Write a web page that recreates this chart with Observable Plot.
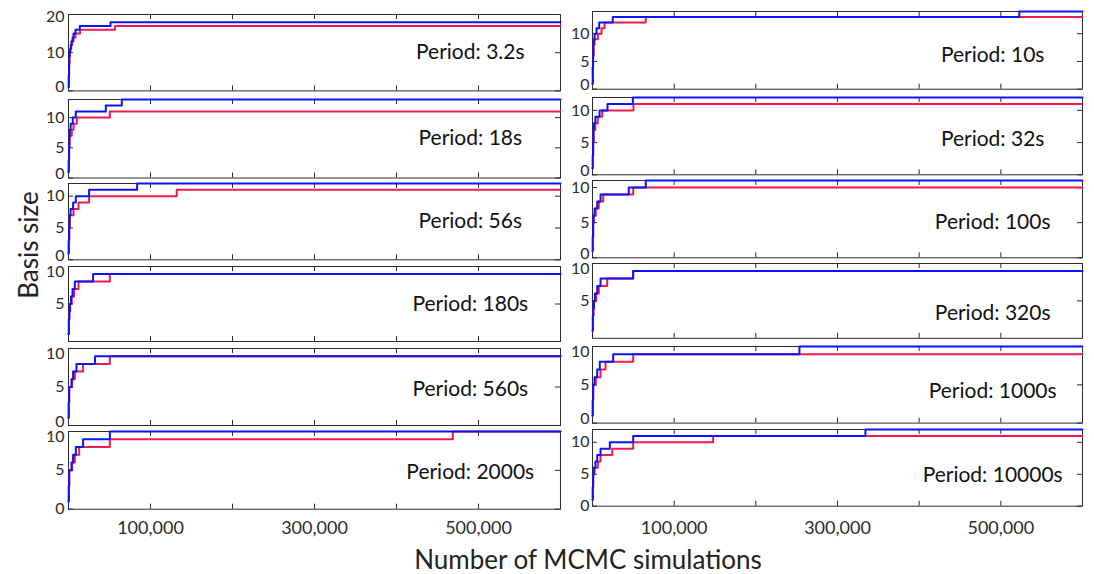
<!DOCTYPE html>
<html>
<head>
<meta charset="utf-8">
<script src="https://cdn.jsdelivr.net/npm/d3@7"></script>
<script src="https://cdn.jsdelivr.net/npm/@observablehq/plot@0.6"></script>
<style>
  body { margin: 0; background: #fff; }
  #chart { position: relative; width: 1094px; height: 574px; font-family: Lato, "Open Sans", sans-serif; color: #262626; }
  #chart svg { position: absolute; overflow: visible; }
  .axis-title { position: absolute; font-size: 26px; color: #222; white-space: nowrap; line-height: 1; }
</style>
</head>
<body>
<div id="chart"></div>
<script>
// Panels in reading order: left column, right column, row by row
const periods = ["3.2s", "10s", "18s", "32s", "56s", "100s", "180s", "320s", "560s", "1000s", "2000s", "10000s"];

// Basis size after N MCMC simulations, as [simulations, basis size] change points
const redSeries = [
  [[0,1],[400,4],[800,7],[1200,9],[1700,10],[2400,11],[3300,12],[4500,13],[6100,14],[8500,15],[14100,16],[56800,17],[600000,17]],
  [[0,1],[400,4],[800,6],[1300,8],[2500,9],[6500,10],[11000,11],[14700,12],[65200,13],[600000,13]],
  [[0,1],[400,3],[800,5],[1300,7],[4000,8],[6100,9],[10100,10],[50400,11],[600000,11]],
  [[0,1],[400,3],[900,5],[1400,7],[3500,8],[6500,9],[11900,10],[50200,11],[600000,11]],
  [[0,1],[400,3],[900,5],[1500,7],[6100,8],[12200,9],[25100,10],[132000,11],[600000,11]],
  [[0,1],[400,3],[900,5],[1500,6],[4000,7],[7700,8],[13100,9],[49800,10],[600000,10]],
  [[0,1],[500,3],[1100,4],[2000,5],[4000,6],[6800,7],[12200,8],[50400,9],[600000,9]],
  [[0,1],[500,3],[1100,4],[2000,5],[4500,6],[7700,7],[18000,8],[49800,9],[600000,9]],
  [[0,1],[400,3],[900,5],[4500,6],[7700,7],[17800,8],[50400,9],[600000,9]],
  [[0,1],[400,3],[900,5],[4000,6],[9800,7],[15900,8],[49800,9],[600000,9]],
  [[0,1],[400,3],[900,5],[4500,6],[7700,7],[13000,8],[50400,9],[468700,10],[600000,10]],
  [[0,1],[400,3],[900,5],[2500,6],[6500,7],[9800,8],[24100,9],[49800,10],[147700,11],[600000,11]]
];

const blueSeries = [
  [[0,1],[300,4],[600,7],[900,9],[1300,10],[1900,11],[2700,12],[3600,13],[4900,14],[6100,15],[8500,16],[13800,17],[51200,18],[600000,18]],
  [[0,1],[300,4],[600,6],[1000,8],[1500,9],[2500,10],[4900,11],[8200,12],[24800,13],[522600,14],[600000,14]],
  [[0,1],[300,3],[600,5],[1000,7],[1600,8],[2600,9],[5200,10],[8900,11],[45500,12],[65000,13],[600000,13]],
  [[0,1],[300,3],[700,5],[1100,7],[1700,8],[3500,9],[8600,10],[18400,11],[49400,12],[600000,12]],
  [[0,1],[300,3],[700,5],[1200,7],[2500,8],[5600,9],[8900,10],[25100,11],[83700,12],[600000,12]],
  [[0,1],[300,3],[700,5],[1200,6],[2500,7],[5800,8],[9800,9],[44400,10],[65200,11],[600000,11]],
  [[0,1],[400,3],[900,4],[1600,5],[3000,6],[4900,7],[7700,8],[30000,9],[600000,9]],
  [[0,1],[400,3],[900,4],[1600,5],[3000,6],[5800,7],[9800,8],[49800,9],[600000,9]],
  [[0,1],[300,3],[700,5],[3600,6],[5600,7],[9700,8],[32400,9],[600000,9]],
  [[0,1],[300,3],[700,5],[2500,6],[5800,7],[8900,8],[25300,9],[253400,10],[600000,10]],
  [[0,1],[300,3],[700,5],[3600,6],[5600,7],[8900,8],[17800,9],[50400,10],[600000,10]],
  [[0,1],[300,3],[700,5],[1500,6],[3500,7],[5800,8],[9800,9],[21200,10],[49800,11],[334200,12],[600000,12]]
];

// Upper y limit and labelled y ticks of each panel
const yMax = [20, 14, 13, 12, 12, 11, 10, 10, 10, 10, 10, 12];
const yTicks = [[0,10,20],[0,5,10],[0,5,10],[0,5,10],[0,5,10],[0,5,10],[5,10],[5,10],[0,5,10],[0,5,10],[0,5,10],[0,5,10]];

const xDomain = [0, 600000];
const xTicks = [100000, 200000, 300000, 400000, 500000];
const xTickLabels = [100000, 300000, 500000];

// Frame placement (px) of each column and row
const columns = [{x0: 67.7, x1: 559.7, pad: 4, xPad: 12}, {x0: 592, x1: 1082, pad: 3, xPad: 15.5}];
const rows = [
  [[14.3, 90.7], [99, 177.5], [182.7, 259], [266, 341], [348.3, 425.3], [431.3, 509]],
  [[11, 88.7], [96.7, 174], [180, 257.3], [262.7, 337.5], [345.7, 422.3], [429, 505.7]]
];
const labelShift = [[0, 0, 0, 0, 2, 2], [5, 3, 3, 12, 6, 7]];

const RED = "#ee1a52";
const BLUE = "#0a14f5";
const AXIS = "#2b2b2b";
const M = {left: 40, right: 8, top: 8, bottom: 34};
const TICK = 5;

const chart = document.getElementById("chart");

periods.forEach((period, i) => {
  const c = i % 2, r = Math.floor(i / 2);
  const col = columns[c];
  const [y0, y1] = rows[c][r];
  const innerW = col.x1 - col.x0;
  const innerH = y1 - y0;
  const bottomRow = r === rows[c].length - 1;

  // labels at the ends of the y range sit slightly inside the frame,
  // clear of the neighbouring panel's labels
  const lowTicks = yTicks[i].filter(t => t === 0);
  const highTicks = yTicks[i].filter(t => t === yMax[i]);
  const midTicks = yTicks[i].filter(t => t !== 0 && t !== yMax[i]);
  const yLabels = (ticks, dy) => Plot.axisY({ticks, tickSize: 0, tickPadding: col.pad, label: null, fill: AXIS, fontSize: 16, dy});

  const marks = [
    Plot.frame({stroke: AXIS, strokeWidth: 1}),
    // inward tick marks on all four sides
    Plot.tickX(xTicks, {x: d => d, insetTop: innerH - TICK, stroke: AXIS}),
    Plot.tickX(xTicks, {x: d => d, insetBottom: innerH - TICK, stroke: AXIS}),
    Plot.tickY(yTicks[i], {y: d => d, insetRight: innerW - TICK, stroke: AXIS}),
    Plot.tickY(yTicks[i], {y: d => d, insetLeft: innerW - TICK, stroke: AXIS}),
    yLabels(lowTicks, bottomRow ? 0 : -4),
    yLabels(midTicks, 0),
    yLabels(highTicks, r === 0 ? 2 : 5),
    bottomRow
      ? Plot.axisX({ticks: xTickLabels, tickSize: 0, tickPadding: col.xPad, tickFormat: d3.format(","), label: null, fill: AXIS})
      : null,
    Plot.line(redSeries[i], {x: d => d[0], y: d => d[1], curve: "step-after", stroke: RED, strokeWidth: 2}),
    Plot.line(blueSeries[i], {x: d => d[0], y: d => d[1], curve: "step-after", stroke: BLUE, strokeWidth: 2}),
    Plot.text([`Period: ${period}`], {x: 490000, frameAnchor: "middle", text: d => d, textAnchor: "middle",
      dy: labelShift[c][r], fontSize: 21, fill: "#111"})
  ];

  const svg = Plot.plot({
    width: innerW + M.left + M.right,
    height: innerH + M.top + M.bottom,
    marginLeft: M.left, marginRight: M.right, marginTop: M.top, marginBottom: M.bottom,
    x: {domain: xDomain, axis: null},
    y: {domain: [0, yMax[i]], axis: null},
    style: {fontFamily: "Lato, 'Open Sans', sans-serif", fontSize: "18px", background: "transparent", overflow: "visible"},
    marks
  });
  svg.style.left = `${col.x0 - M.left}px`;
  svg.style.top = `${y0 - M.top}px`;
  chart.appendChild(svg);
});

// Shared axis titles
const yTitle = document.createElement("div");
yTitle.className = "axis-title";
yTitle.textContent = "Basis size";
yTitle.style.left = "28px";
yTitle.style.top = "245px";
yTitle.style.transform = "translate(-50%, -50%) rotate(-90deg)";
chart.appendChild(yTitle);

const xTitle = document.createElement("div");
xTitle.className = "axis-title";
xTitle.textContent = "Number of MCMC simulations";
xTitle.style.left = "588px";
xTitle.style.top = "559px";
xTitle.style.transform = "translate(-50%, -50%)";
chart.appendChild(xTitle);
</script>
</body>
</html>
